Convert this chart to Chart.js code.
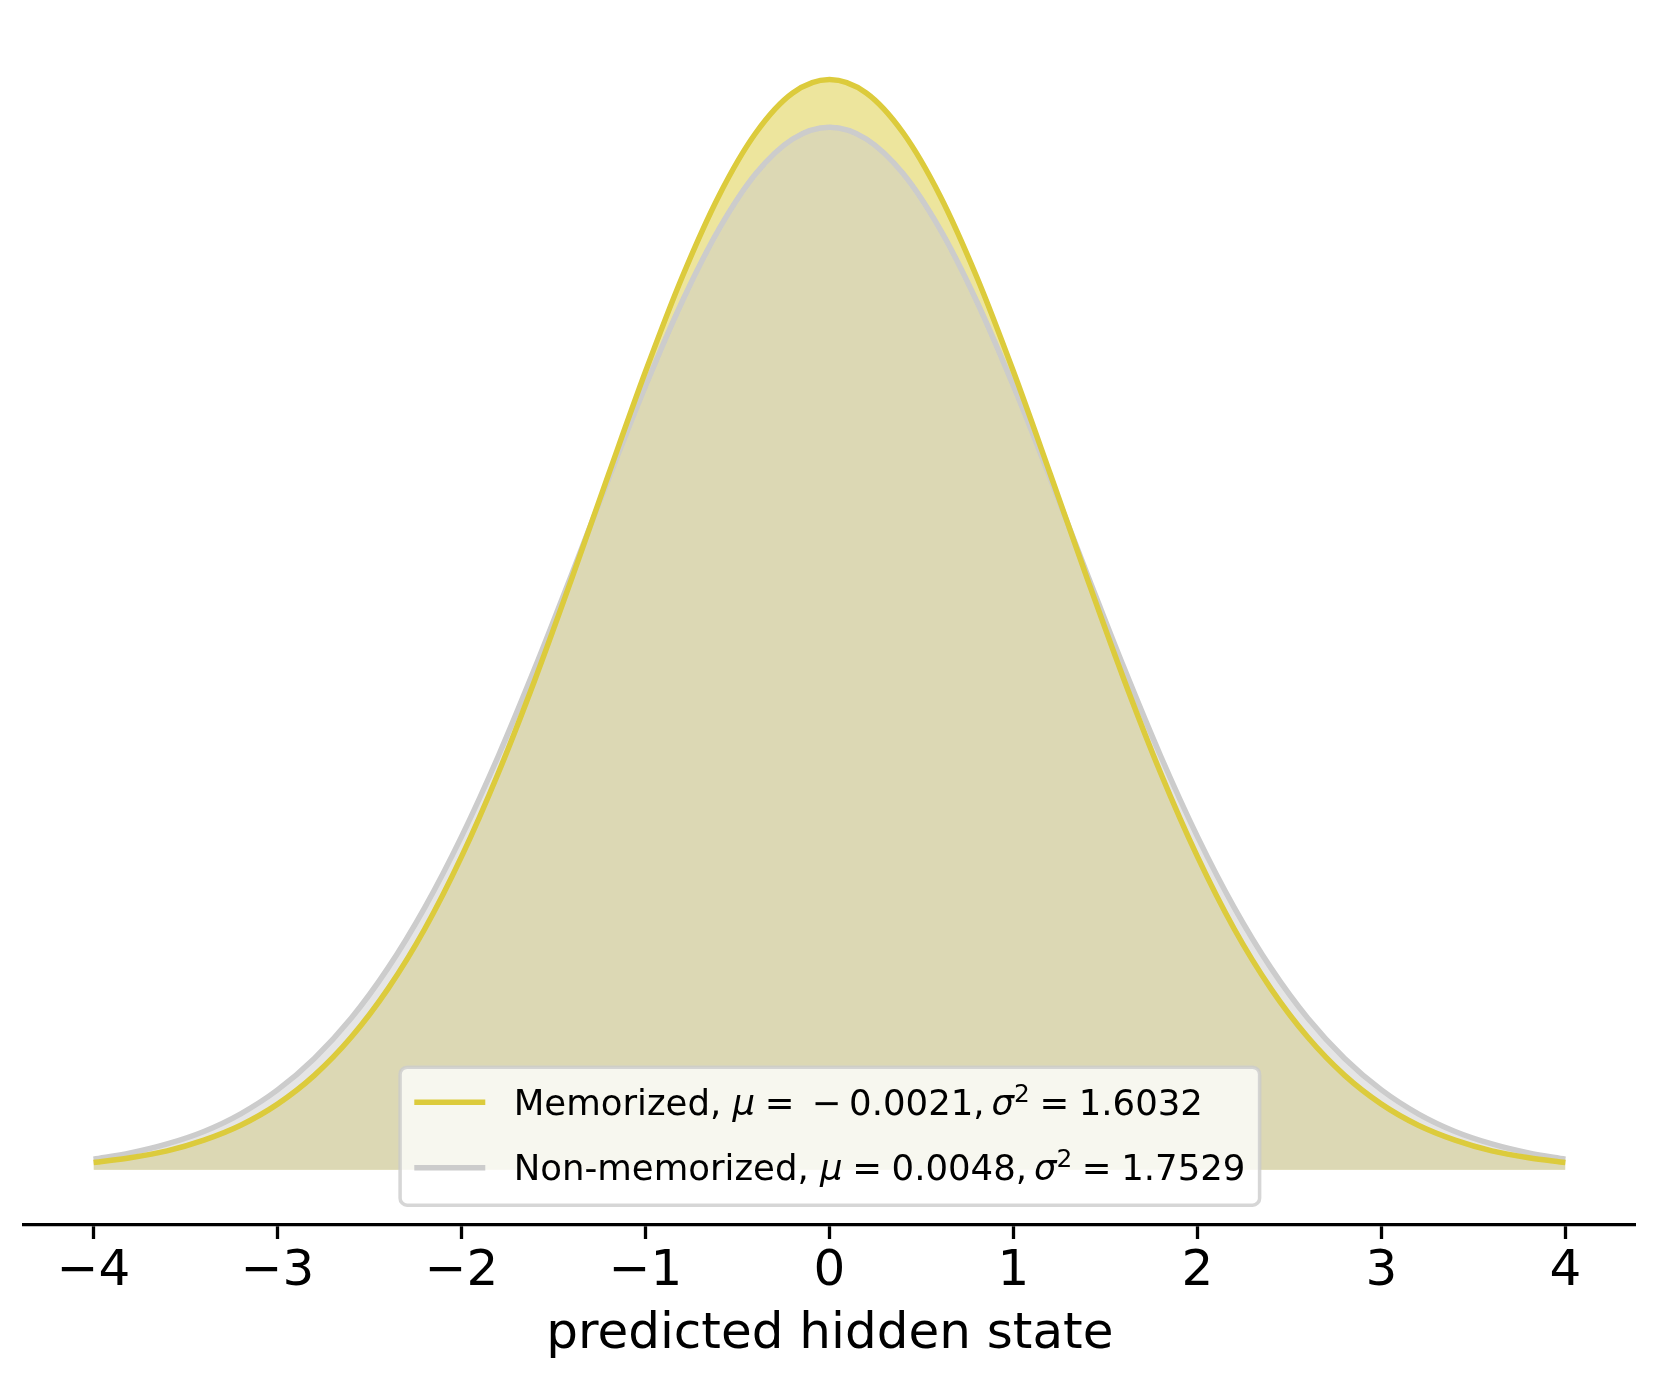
<!DOCTYPE html>
<html>
<head>
<meta charset="utf-8">
<script src="https://cdn.jsdelivr.net/npm/chart.js@4/dist/chart.umd.min.js"></script>
<style>
html,body{margin:0;padding:0;background:#ffffff;}
canvas{display:block;}
</style>
</head>
<body>
<canvas id="c" width="1660" height="1387"></canvas>
<script>
// ---- data ----
const xValues = [-4.0,-3.8,-3.6,-3.4,-3.2,-3.0,-2.8,-2.6,-2.4,-2.2,-2.0,-1.8,-1.6,-1.4,-1.2,-1.0,-0.8,-0.6,-0.4,-0.2,0.0,
                  0.2,0.4,0.6,0.8,1.0,1.2,1.4,1.6,1.8,2.0,2.2,2.4,2.6,2.8,3.0,3.2,3.4,3.6,3.8,4.0];
const memorized = [0.0021,0.0035,0.0055,0.0086,0.0129,0.0190,0.0273,0.0383,0.0523,0.0696,0.0905,0.1147,0.1418,0.1710,0.2011,0.2307,0.2581,0.2816,0.2997,0.3112,0.3151,
                   0.3112,0.2997,0.2816,0.2581,0.2307,0.2011,0.1710,0.1418,0.1147,0.0905,0.0696,0.0523,0.0383,0.0273,0.0190,0.0129,0.0086,0.0055,0.0035,0.0021];
const nonMemorized = [0.0031,0.0049,0.0075,0.0111,0.0162,0.0231,0.0322,0.0438,0.0583,0.0758,0.0963,0.1196,0.1452,0.1723,0.1998,0.2265,0.2510,0.2719,0.2879,0.2979,0.3013,
                      0.2979,0.2879,0.2719,0.2510,0.2265,0.1998,0.1723,0.1452,0.1196,0.0963,0.0758,0.0583,0.0438,0.0322,0.0231,0.0162,0.0111,0.0075,0.0049,0.0031];
const xTicks = [-4,-3,-2,-1,0,1,2,3,4];
const seriesNames = ['Memorized','Non-memorized'];
const seriesMu = ['\u22120.0021','0.0048'];
const seriesVar = ['1.6032','1.7529'];
const xAxisTitle = 'predicted hidden state';

// ---- styling ----
const FONT = '"DejaVu Sans"';
const memColor = '#DCCB3C';
const nonColor = '#CCCCCC';
const memFill = 'rgba(220,203,60,0.5)';
const nonFill = 'rgba(204,204,204,0.5)';
const pts = arr => xValues.map((x,i)=>({x:x, y:arr[i]}));

// matplotlib-like legend with mathtext-style runs
const LF = 35.5;
function rowRuns(name, mu, v){
  const rel = 0.27*LF, bin = 0.216*LF, comma = 0.195*LF;
  const runs = [{t:name + ', '},{t:'\u03bc',it:true},{gap:rel},{t:'='},{gap:rel}];
  let m = mu;
  if (m.startsWith('\u2212')) { runs.push({gap:bin},{t:'\u2212'},{gap:bin}); m = m.slice(1); }
  runs.push({t:m + ','},{gap:comma},{t:'\u03c3',it:true},{t:'2',sup:true},{gap:rel},{t:'='},{gap:rel},{t:v});
  return runs;
}
function runFont(r){ return (r.it?'italic ':'') + (r.sup?LF*0.7:LF) + 'px ' + FONT; }
function runsWidth(ctx, runs){
  let w=0; for(const r of runs){ if(r.gap){w+=r.gap;continue;} ctx.font=runFont(r); w+=ctx.measureText(r.t).width; } return w;
}
function drawRuns(ctx, runs, x, y){
  for(const r of runs){
    if(r.gap){x+=r.gap;continue;}
    ctx.font=runFont(r);
    ctx.fillText(r.t, x, y - (r.sup?0.37*LF:0));
    x+=ctx.measureText(r.t).width;
  }
}
const legendPlugin = {
  id:'mplLegend',
  afterDraw(chart){
    const ctx = chart.ctx, ca = chart.chartArea;
    const rows = seriesNames.map((n,i)=>rowRuns(n, seriesMu[i], seriesVar[i]));
    const colors = [memColor, nonColor];
    ctx.save();
    const tw = Math.max(...rows.map(r=>runsWidth(ctx,r)));
    const pad = 0.4*LF, hl = 2*LF, htp = 0.8*LF, pitch = 65.6, h = 138;
    const w = pad + hl + htp + tw + pad;
    const x0 = (ca.left+ca.right)/2 - w/2;
    const y1 = ca.bottom - 0.5*LF - 1.5;
    const y0 = y1 - h;
    ctx.beginPath();
    ctx.roundRect(x0, y0, w, h, 7);
    ctx.fillStyle='rgba(255,255,255,0.8)';
    ctx.fill();
    ctx.lineWidth=3.5;
    ctx.strokeStyle='rgba(204,204,204,0.8)';
    ctx.stroke();
    rows.forEach((runs,i)=>{
      const yc = y0 + 35 + i*pitch;
      ctx.beginPath();
      ctx.moveTo(x0+pad, yc); ctx.lineTo(x0+pad+hl, yc);
      ctx.lineWidth=5.5; ctx.strokeStyle=colors[i]; ctx.lineCap='butt';
      ctx.stroke();
      ctx.fillStyle='#000'; ctx.textBaseline='alphabetic'; ctx.textAlign='left';
      drawRuns(ctx, runs, x0+pad+hl+htp, yc+12.5);
    });
    ctx.restore();
  }
};

new Chart(document.getElementById('c'), {
  type:'line',
  data:{
    datasets:[
      {label:'memFill', data:pts(memorized), borderWidth:0, pointRadius:0, fill:'origin', backgroundColor:memFill, cubicInterpolationMode:'monotone', order:4},
      {label:'nonFill', data:pts(nonMemorized), borderWidth:0, pointRadius:0, fill:'origin', backgroundColor:nonFill, cubicInterpolationMode:'monotone', order:3},
      {label:seriesNames[1], data:pts(nonMemorized), borderWidth:5.5, borderColor:nonColor, pointRadius:0, fill:false, cubicInterpolationMode:'monotone', borderCapStyle:'butt', order:2},
      {label:seriesNames[0], data:pts(memorized), borderWidth:5.5, borderColor:memColor, pointRadius:0, fill:false, cubicInterpolationMode:'monotone', borderCapStyle:'butt', order:1}
    ]
  },
  options:{
    responsive:false, animation:false, devicePixelRatio:1,
    layout:{padding:{left:24, right:24.3, top:25, bottom:22}},
    plugins:{legend:{display:false}, tooltip:{enabled:false}},
    scales:{
      x:{
        type:'linear', min:-4.378, max:4.382,
        afterBuildTicks: s => { s.ticks = xTicks.map(v=>({value:v})); },
        ticks:{callback: v => v<0 ? '\u2212'+Math.abs(v) : String(v), color:'#000', font:{family:'DejaVu Sans', size:50, lineHeight:1.2}, padding:3, maxRotation:0, autoSkip:false},
        grid:{display:true, drawOnChartArea:false, drawTicks:true, tickLength:14.6, tickWidth:3.3, tickColor:'#000'},
        border:{display:true, color:'#000', width:3.3},
        title:{display:true, text:xAxisTitle, color:'#000', font:{family:'DejaVu Sans', size:50, lineHeight:1.2}, padding:{top:0,bottom:0}}
      },
      y:{display:false, min:-0.01576, max:0.33084}
    }
  },
  plugins:[legendPlugin]
});
</script>
</body>
</html>
